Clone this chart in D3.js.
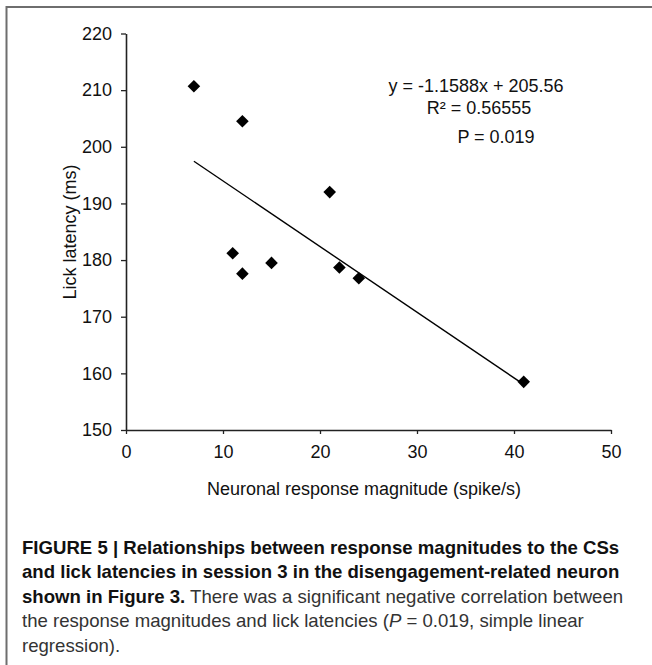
<!DOCTYPE html>
<html><head><meta charset="utf-8">
<script src="https://cdn.jsdelivr.net/npm/d3@7"></script>
<style>
html,body{margin:0;padding:0;background:#fff;}
svg{display:block;}
</style></head>
<body>
<svg id="c" width="652" height="665"></svg>
<script>
const responseMagnitude = [7, 12, 21, 11, 12, 15, 22, 24, 41];
const lickLatency = [210.7, 204.5, 192.0, 181.2, 177.6, 179.5, 178.7, 176.8, 158.5];
const xTicks = [0, 10, 20, 30, 40, 50];
const yTicks = [150, 160, 170, 180, 190, 200, 210, 220];
const slope = -1.1588, intercept = 205.56;
const equationLines = ["y = -1.1588x + 205.56", "R\u00b2 = 0.56555"];
const pLabel = "P = 0.019";
const xTitle = "Neuronal response magnitude (spike/s)";
const yTitle = "Lick latency (ms)";

const svg = d3.select("#c");
const font = "'Liberation Sans', Arial, sans-serif";

// frame
svg.append("path").attr("d","M6.5,665 V7 H652").attr("fill","none").attr("stroke","#6e6e6e").attr("stroke-width",2);

const x = d3.scaleLinear().domain([0,50]).range([126,611]);
const y = d3.scaleLinear().domain([150,220]).range([430,33.5]);

const gx = svg.append("g").attr("transform","translate(0,430)")
  .call(d3.axisBottom(x).tickValues(xTicks).tickSize(4).tickSizeOuter(0).tickPadding(11));
const gy = svg.append("g").attr("transform","translate(126,0)")
  .call(d3.axisLeft(y).tickValues(yTicks).tickSize(5).tickSizeOuter(0).tickPadding(9));
[gx,gy].forEach(g=>{
  g.selectAll("path").attr("stroke","#222").attr("stroke-width",1.6);
  g.selectAll("line").attr("stroke","#222").attr("stroke-width",1.3);
  g.selectAll("text").attr("font-family",font).attr("font-size",18).attr("fill","#111");
});

// regression line
const xmin = d3.min(responseMagnitude), xmax = d3.max(responseMagnitude);
svg.append("line")
  .attr("x1",x(xmin)).attr("y1",y(slope*xmin+intercept))
  .attr("x2",x(xmax)).attr("y2",y(slope*xmax+intercept))
  .attr("stroke","#000").attr("stroke-width",1.4);

// points
const pts = responseMagnitude.map((v,i)=>({x:v,y:lickLatency[i]}));
svg.append("g").selectAll("path").data(pts).join("path")
  .attr("transform",d=>`translate(${x(d.x)},${y(d.y)})`)
  .attr("d","M0,-6.3 L6.3,0 L0,6.3 L-6.3,0 Z").attr("fill","#000");

// annotations
const ann = svg.append("g").attr("font-family",font).attr("font-size",18).attr("fill","#111").attr("text-anchor","middle");
ann.append("text").attr("x",476).attr("y",91.5).text(equationLines[0]);
ann.append("text").attr("x",479).attr("y",113.5).text(equationLines[1]);
ann.append("text").attr("x",496).attr("y",143).text(pLabel);

// axis titles
svg.append("text").attr("x",364).attr("y",494.5).attr("text-anchor","middle")
  .attr("font-family",font).attr("font-size",18).attr("fill","#111").text(xTitle);
svg.append("text").attr("transform","translate(76,232) rotate(-90)").attr("text-anchor","middle")
  .attr("font-family",font).attr("font-size",18).attr("fill","#111").text(yTitle);

// caption
const cap = svg.append("g").attr("font-family",font).attr("font-size",18.6).attr("fill","#111");
const capLines = [
  [{t:"FIGURE 5 | Relationships between response magnitudes to the CSs",b:true}],
  [{t:"and lick latencies in session 3 in the disengagement-related neuron",b:true}],
  [{t:"shown in Figure 3.",b:true},{t:" There was a significant negative correlation between",b:false}],
  [{t:"the response magnitudes and lick latencies (",b:false},{t:"P",b:false,i:true},{t:" = 0.019, simple linear",b:false}],
  [{t:"regression).",b:false}]
];
capLines.forEach((ln,k)=>{
  const t = cap.append("text").attr("x",22).attr("y",554+k*24.4);
  ln.forEach(s=>{
    t.append("tspan").attr("font-weight",s.b?"bold":"normal").attr("font-style",s.i?"italic":"normal")
      .attr("fill",s.b?"#111":"#333").text(s.t);
  });
});
</script>
</body></html>
